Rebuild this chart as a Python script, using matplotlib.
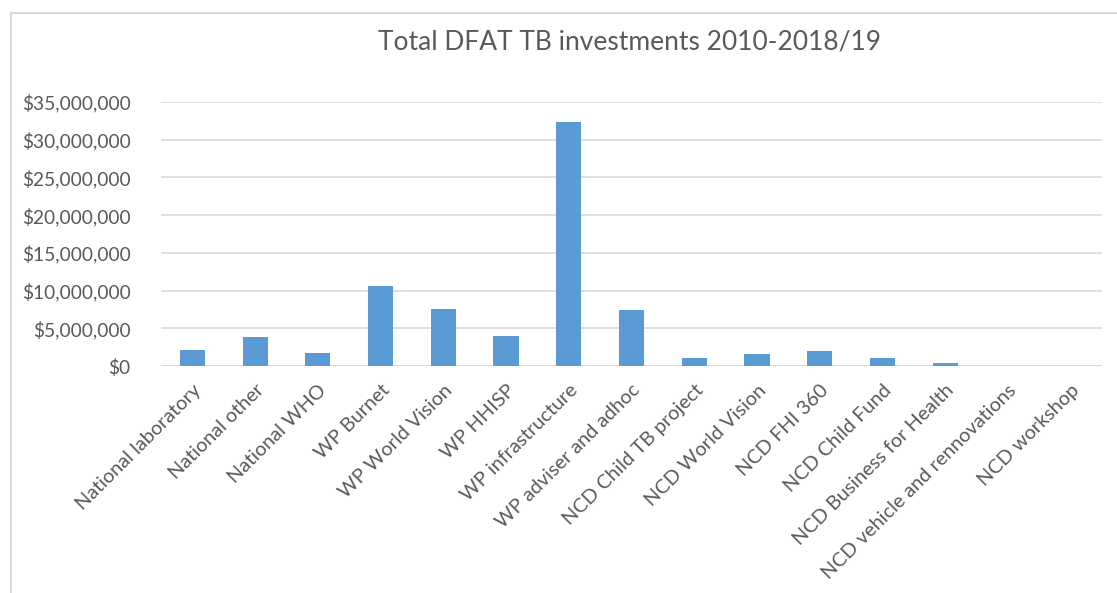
import matplotlib
matplotlib.use("Agg")
import matplotlib.pyplot as plt
from matplotlib.lines import Line2D
from matplotlib.ticker import FuncFormatter, MultipleLocator

categories = ["National laboratory", "National other", "National WHO", "WP Burnet",
              "WP World Vision", "WP HHISP", "WP infrastructure", "WP adviser and adhoc",
              "NCD Child TB project", "NCD World Vision", "NCD FHI 360", "NCD Child Fund",
              "NCD Business for Health", "NCD vehicle and rennovations", "NCD workshop"]
values = [2120000, 3800000, 1720000, 10650000, 7520000, 3940000, 32360000, 7430000,
          1060000, 1600000, 2000000, 1020000, 360000, 0, 0]

plt.rcParams['font.family'] = ['Lato', 'DejaVu Sans']
W, H = 1117, 593
fig = plt.figure(figsize=(W / 100, H / 100), dpi=100)
ax = fig.add_axes([161 / W, 1 - 366 / H, (1102 - 161) / W, (366 - 102) / H])

x = range(len(categories))
ax.bar(x, values, width=0.4, color="#5b9bd5", zorder=3)
ax.set_xlim(-0.5, len(categories) - 0.5)
ax.set_ylim(0, 35000000)
ax.yaxis.set_major_locator(MultipleLocator(5000000))
ax.yaxis.set_major_formatter(FuncFormatter(lambda v, p: "${:,.0f}".format(v)))
ax.grid(axis="y", color="#d9d9d9", linewidth=1.2, zorder=0)
for s in ax.spines.values():
    s.set_visible(False)
ax.axhline(0, color="#d9d9d9", linewidth=1.2, zorder=2)
ax.tick_params(axis="both", length=0, colors="#595959")
ax.tick_params(axis="y", pad=22, labelsize=13.8)
ax.set_xticks(list(x))
ax.set_xticklabels(categories, rotation=45, ha="right", rotation_mode="anchor")
ax.tick_params(axis="x", pad=11, labelsize=14.3)

fig.text(630 / W, 1 - 42 / H, "Total DFAT TB investments 2010-2018/19",
         ha="center", va="center", fontsize=19, color="#595959")

fig.add_artist(Line2D([11 / W, 1], [1 - 12.5 / H, 1 - 12.5 / H], color="#d9d9d9", linewidth=1.5))
fig.add_artist(Line2D([11 / W, 11 / W], [0, 1 - 12.5 / H], color="#d9d9d9", linewidth=1.5))

fig.savefig("out.png", dpi=100)
